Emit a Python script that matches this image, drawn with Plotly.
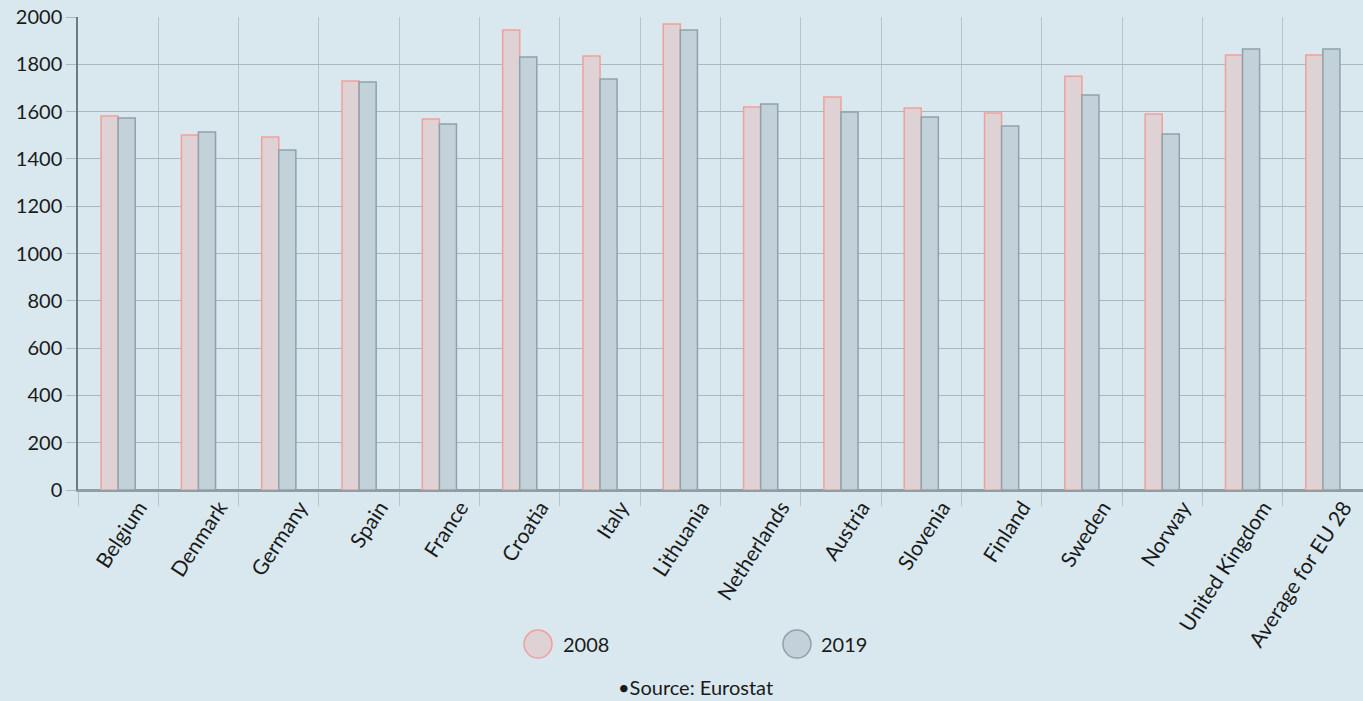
import plotly.graph_objects as go

countries = ["Belgium", "Denmark", "Germany", "Spain", "France", "Croatia", "Italy",
             "Lithuania", "Netherlands", "Austria", "Slovenia", "Finland", "Sweden",
             "Norway", "United Kingdom", "Average for EU 28"]
hours_2008 = [1581, 1501, 1493, 1729, 1569, 1945, 1835, 1970, 1619, 1662, 1615, 1594, 1750, 1590, 1839, 1839]
hours_2019 = [1573, 1514, 1438, 1725, 1548, 1831, 1738, 1945, 1632, 1598, 1577, 1539, 1670, 1505, 1865, 1865]

fill_2008 = "#dfd2d5"
line_2008 = "#f0a09c"
fill_2019 = "#c3d2d9"
line_2019 = "#8ea2ab"
bg = "#d9e8ee"

fig = go.Figure()
fig.add_trace(go.Bar(x=countries, y=hours_2008, name="2008", showlegend=False,
                     marker=dict(color=fill_2008, line=dict(color=line_2008, width=1.5))))
fig.add_trace(go.Bar(x=countries, y=hours_2019, name="2019", showlegend=False,
                     marker=dict(color=fill_2019, line=dict(color=line_2019, width=1.5))))

# legend drawn by hand so the round markers can be big
legend_items = [("2008", fill_2008, line_2008, 0.358), ("2019", fill_2019, line_2019, 0.5595)]
shapes = []
annotations = []
for label, fill, edge, xpos in legend_items:
    shapes.append(dict(type="circle", xref="paper", yref="paper", xsizemode="pixel", ysizemode="pixel",
                       xanchor=xpos, yanchor=-0.3256, x0=-14, x1=14, y0=-14, y1=14,
                       fillcolor=fill, line=dict(color=edge, width=1.5)))
    annotations.append(dict(text=label, xref="paper", yref="paper", x=xpos + 0.0175, y=-0.3256,
                            xanchor="left", yanchor="middle", showarrow=False, font=dict(size=20)))
annotations.append(dict(text="•Source: Eurostat", xref="paper", yref="paper",
                        x=0.4805, y=-0.4165, xanchor="center", yanchor="middle",
                        showarrow=False, font=dict(size=20)))

fig.update_layout(
    width=1363, height=701,
    paper_bgcolor=bg, plot_bgcolor=bg,
    font=dict(family="Lato, Noto Sans, sans-serif", color="#1a1a1a", size=19),
    margin=dict(l=78, r=0, t=17, b=211),
    barmode="group", bargap=0.575, bargroupgap=0,
    showlegend=False,
    shapes=shapes,
    annotations=annotations,
)
fig.update_xaxes(type="category", tickson="boundaries", showgrid=True, gridcolor="#b5c4ca",
                 gridwidth=1.2, ticks="outside", ticklen=14, tickcolor="#b5c4ca",
                 tickangle=-57, showline=True, linecolor="#909ea4", linewidth=2,
                 ticklabelshift=21, ticklabelstandoff=-5,
                 tickfont=dict(size=21))
fig.update_yaxes(range=[0, 2000], dtick=200, showgrid=True, gridcolor="#a9b8be", gridwidth=1.2,
                 zeroline=True, zerolinecolor="#909ea4", zerolinewidth=2,
                 ticks="outside", ticklen=10, tickcolor="#a9b8be",
                 showline=True, linecolor="#6f7a7e", linewidth=1.5,
                 tickfont=dict(size=20))

fig.write_html("out.html", config={"displayModeBar": False},
               post_script="document.body.style.margin='0';")
